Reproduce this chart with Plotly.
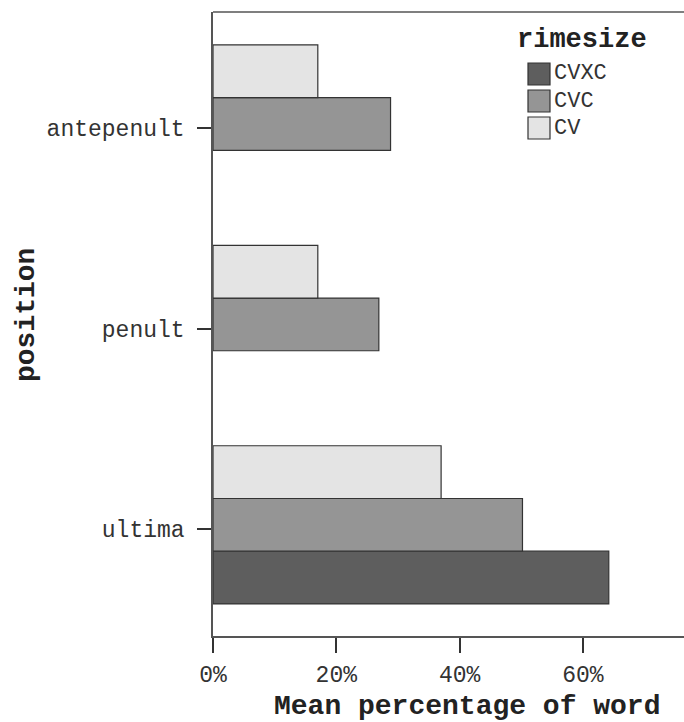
import plotly.graph_objects as go

# ---- data ----
positions = ["ultima", "penult", "antepenult"]
series_names = ["CVXC", "CVC", "CV"]
cvxc = [64.2, None, None]
cvc = [50.2, 26.9, 28.8]
cv = [37.0, 17.0, 17.0]
x_ticks = [0, 20, 40, 60]
x_tick_labels = ["0%", "20%", "40%", "60%"]

colors = {"CVXC": "#5e5e5e", "CVC": "#959595", "CV": "#e4e4e4"}
values = {"CVXC": cvxc, "CVC": cvc, "CV": cv}
offsets = {"CVXC": -0.374, "CVC": -0.111, "CV": 0.152}
BAR_W = 0.263

FONT = "Courier New, Nimbus Mono PS, Liberation Mono, monospace"
W, H = 684, 722
L, R, T, B = 213, 0, 12, 86
PW, PH = W - L - R, H - T - B


def px(xp):
    return (xp - L) / PW


def py(yp):
    return (H - B - yp) / PH


fig = go.Figure()
for name in series_names:
    fig.add_trace(go.Bar(
        name=name,
        y=positions,
        x=values[name],
        orientation="h",
        width=BAR_W,
        offset=offsets[name],
        marker=dict(color=colors[name], line=dict(color="#333333", width=1.2)),
        showlegend=False,
    ))

shapes = [
    dict(type="line", xref="paper", yref="paper", x0=0, x1=1, y0=1, y1=1,
         line=dict(color="#555555", width=1.5)),
]
annotations = [
    dict(text="<b>rimesize</b>", xref="paper", yref="paper", x=px(582), y=py(40),
         showarrow=False, xanchor="center", yanchor="middle",
         font=dict(family=FONT, size=27, color="#222222")),
    dict(text="<b>Mean percentage of word</b>", xref="paper", yref="paper",
         x=px(467), y=py(706), showarrow=False, xanchor="center", yanchor="middle",
         font=dict(family=FONT, size=28, color="#222222")),
    dict(text="<b>position</b>", xref="paper", yref="paper",
         x=px(26), y=py(315), showarrow=False, xanchor="center", yanchor="middle",
         textangle=-90, font=dict(family=FONT, size=28, color="#222222")),
]
box_tops = [63, 90, 117]
for name, top in zip(series_names, box_tops):
    shapes.append(dict(type="rect", xref="paper", yref="paper",
                       x0=px(528), x1=px(550), y0=py(top), y1=py(top + 22),
                       fillcolor=colors[name], line=dict(color="#333333", width=1.2)))
    annotations.append(dict(text=name, xref="paper", yref="paper",
                            x=px(552), y=py(top + 11), showarrow=False,
                            xanchor="left", yanchor="middle",
                            font=dict(family=FONT, size=22, color="#333333")))

fig.update_layout(
    width=W, height=H,
    margin=dict(l=L, r=R, t=T, b=B, pad=0),
    paper_bgcolor="white", plot_bgcolor="white",
    barmode="overlay",
    showlegend=False,
    shapes=shapes,
    annotations=annotations,
    xaxis=dict(
        range=[0, PW / 6.165],
        tickvals=x_ticks, ticktext=x_tick_labels,
        showgrid=False, zeroline=False,
        showline=True, linecolor="#555555", linewidth=1.5,
        ticks="outside", ticklen=15, tickwidth=1.5, tickcolor="#333333",
        tickfont=dict(family=FONT, size=23, color="#333333"),
        ticklabelstandoff=2,
    ),
    yaxis=dict(
        type="category",
        categoryorder="array", categoryarray=positions,
        range=[-0.534, 2.579],
        showgrid=False, zeroline=False,
        showline=True, linecolor="#555555", linewidth=1.5,
        ticks="outside", ticklen=14, tickwidth=1.5, tickcolor="#333333",
        tickfont=dict(family=FONT, size=23, color="#333333"),
        ticklabelstandoff=8,
    ),
)

fig.write_html(
    "out.html",
    config={"displayModeBar": False},
    post_script="document.body.style.margin='0';document.body.style.overflow='hidden';",
)
